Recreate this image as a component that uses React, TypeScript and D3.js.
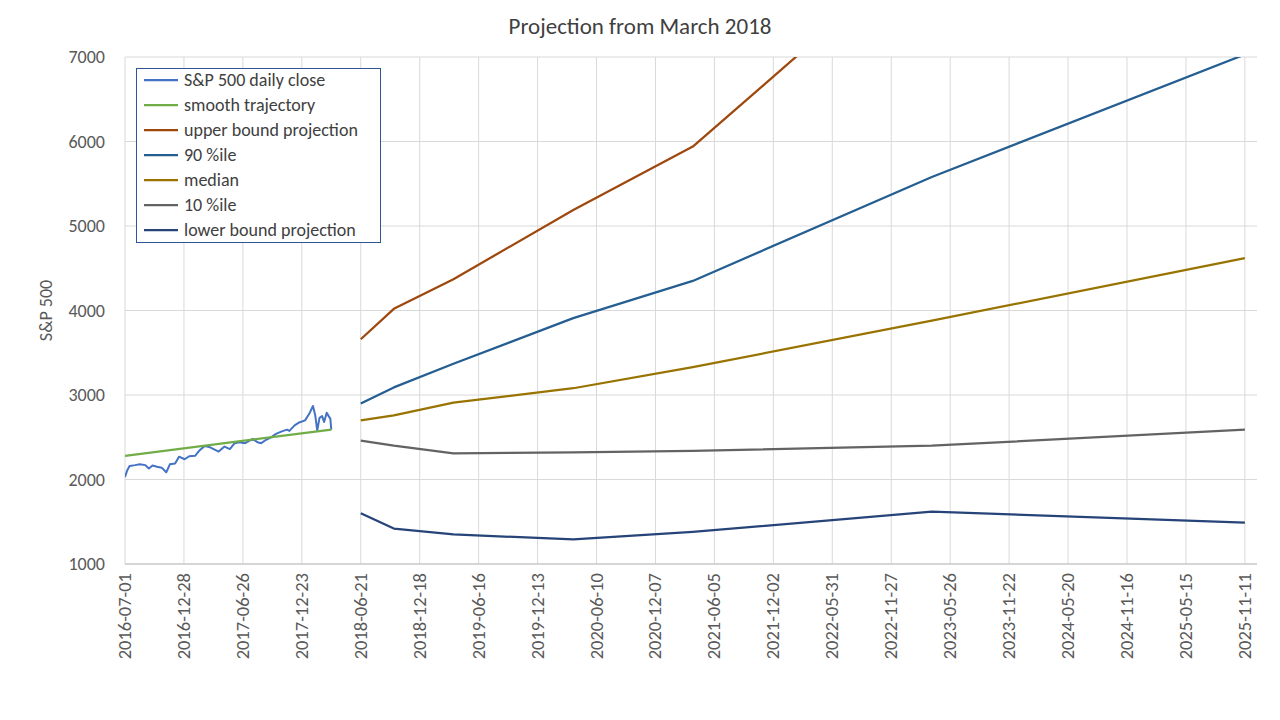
import React, { useEffect, useRef } from 'react';
import * as d3 from 'd3';

const margin = { left: 125, right: 23, top: 57, bottom: 156 };
const width = 1280;
const height = 720;

const closeDates = ['2016-07-01', '2016-07-08', '2016-07-15', '2016-08-01', '2016-08-15', '2016-09-01', '2016-09-12', '2016-09-23', '2016-10-07', '2016-10-21', '2016-11-04', '2016-11-15', '2016-12-01', '2016-12-13', '2016-12-30', '2017-01-13', '2017-01-31', '2017-02-15', '2017-03-01', '2017-03-15', '2017-04-13', '2017-05-01', '2017-05-17', '2017-06-01', '2017-06-15', '2017-07-03', '2017-07-26', '2017-08-10', '2017-08-21', '2017-09-05', '2017-09-20', '2017-10-05', '2017-10-23', '2017-11-08', '2017-11-15', '2017-12-01', '2017-12-15', '2018-01-02', '2018-01-15', '2018-01-26', '2018-02-02', '2018-02-08', '2018-02-15', '2018-02-23', '2018-03-01', '2018-03-09', '2018-03-15', '2018-03-20', '2018-03-23'];
const closeValues = [2030, 2110, 2160, 2170, 2180, 2170, 2130, 2165, 2150, 2140, 2085, 2180, 2190, 2270, 2240, 2275, 2280, 2350, 2395, 2385, 2330, 2390, 2360, 2430, 2440, 2430, 2480, 2440, 2430, 2470, 2500, 2540, 2570, 2590, 2575, 2640, 2675, 2700, 2780, 2870, 2760, 2580, 2730, 2750, 2680, 2790, 2750, 2720, 2590];

const smoothDates = ['2016-07-01', '2018-03-23'];
const smoothValues = [2280, 2590];

const projDates = ['2018-06-21', '2018-09-30', '2019-03-31', '2020-03-31', '2021-03-31', '2023-03-31', '2025-11-11'];
const upperValues = [3660, 4020, 4370, 5190, 5940, 8400, 11500];
const p90Values = [2900, 3090, 3370, 3910, 4350, 5580, 7030];
const medianValues = [2700, 2760, 2910, 3080, 3330, 3880, 4620];
const p10Values = [2460, 2400, 2310, 2320, 2340, 2400, 2590];
const lowerValues = [1600, 1420, 1350, 1290, 1380, 1620, 1490];

const seriesNames = ['S&P 500 daily close', 'smooth trajectory', 'upper bound projection', '90 %ile', 'median', '10 %ile', 'lower bound projection'];
const seriesColors = ['#4472C4', '#70AD47', '#9E480E', '#255E91', '#997300', '#636363', '#264478'];

const yTicks = [1000, 2000, 3000, 4000, 5000, 6000, 7000];

const parse = d3.utcParse('%Y-%m-%d');
const start = parse('2016-07-01')!;
const xTicks = d3.range(20).map((i) => d3.utcDay.offset(start, i * 180));

export default function App() {
  const ref = useRef<SVGSVGElement>(null);

  useEffect(() => {
    const svg = d3.select(ref.current);
    svg.selectAll('*').remove();
    const font = 'Calibri, Carlito, "Open Sans", sans-serif';

    const x = d3.scaleUtc()
      .domain([start, d3.utcDay.offset(start, 3457)])
      .range([margin.left, width - margin.right]);
    const y = d3.scaleLinear().domain([1000, 7000]).range([height - margin.bottom, margin.top]);

    svg.append('defs').append('clipPath').attr('id', 'plot')
      .append('rect').attr('x', margin.left).attr('y', margin.top)
      .attr('width', width - margin.left - margin.right).attr('height', height - margin.top - margin.bottom);

    // grid
    svg.append('g').selectAll('line').data(yTicks).enter().append('line')
      .attr('x1', margin.left).attr('x2', width - margin.right)
      .attr('y1', (d) => y(d)).attr('y2', (d) => y(d))
      .attr('stroke', '#d9d9d9');
    svg.append('g').selectAll('line').data(xTicks).enter().append('line')
      .attr('x1', (d) => x(d)).attr('x2', (d) => x(d))
      .attr('y1', margin.top).attr('y2', height - margin.bottom)
      .attr('stroke', '#d9d9d9');
    svg.append('line').attr('x1', margin.left).attr('x2', width - margin.right)
      .attr('y1', y(1000)).attr('y2', y(1000)).attr('stroke', '#bfbfbf');

    // tick labels
    svg.append('g').selectAll('text').data(yTicks).enter().append('text')
      .attr('x', margin.left - 20).attr('y', (d) => y(d) + 6)
      .attr('text-anchor', 'end').attr('font-size', 18).attr('font-family', font).attr('fill', '#595959')
      .text((d) => d);
    const fmt = d3.utcFormat('%Y-%m-%d');
    svg.append('g').selectAll('text').data(xTicks).enter().append('text')
      .attr('transform', (d) => `translate(${x(d) + 6},${height - margin.bottom + 9}) rotate(-90)`)
      .attr('text-anchor', 'end').attr('font-size', 18.5).attr('font-family', font).attr('fill', '#595959')
      .text((d) => fmt(d));

    const line = d3.line<[Date, number]>().x((d) => x(d[0])).y((d) => y(d[1]));
    const zip = (ds: string[], vs: number[]) => ds.map((d, i) => [parse(d)!, vs[i]] as [Date, number]);
    const all = [
      zip(closeDates, closeValues), zip(smoothDates, smoothValues),
      zip(projDates, upperValues), zip(projDates, p90Values), zip(projDates, medianValues),
      zip(projDates, p10Values), zip(projDates, lowerValues),
    ];
    const g = svg.append('g').attr('clip-path', 'url(#plot)');
    g.selectAll('path').data(all).enter().append('path')
      .attr('d', (d) => line(d))
      .attr('fill', 'none')
      .attr('stroke', (d, i) => seriesColors[i])
      .attr('stroke-width', (d, i) => (i === 0 ? 2 : 2.25))
      .attr('stroke-linejoin', 'round');

    // legend
    const lg = svg.append('g');
    lg.append('rect').attr('x', 136.5).attr('y', 68.5).attr('width', 244).attr('height', 174)
      .attr('fill', 'white').attr('stroke', '#2F5597');
    seriesNames.forEach((n, i) => {
      const yy = 80 + i * 25;
      lg.append('line').attr('x1', 144).attr('x2', 178).attr('y1', yy).attr('y2', yy)
        .attr('stroke', seriesColors[i]).attr('stroke-width', 2.25);
      lg.append('text').attr('x', 184).attr('y', yy + 6).attr('font-size', 18)
        .attr('font-family', font).attr('fill', '#404040').text(n);
    });

    svg.append('text').attr('x', 640).attr('y', 34).attr('text-anchor', 'middle')
      .attr('font-size', 23).attr('font-family', font).attr('fill', '#404040')
      .text('Projection from March 2018');
    svg.append('text').attr('transform', `translate(52,${y(4000)}) rotate(-90)`)
      .attr('text-anchor', 'middle').attr('font-size', 18).attr('font-family', font).attr('fill', '#595959')
      .text('S&P 500');
  }, []);

  return <svg ref={ref} width={width} height={height} style={{ position: 'absolute', left: 0, top: 0 }} />;
}
